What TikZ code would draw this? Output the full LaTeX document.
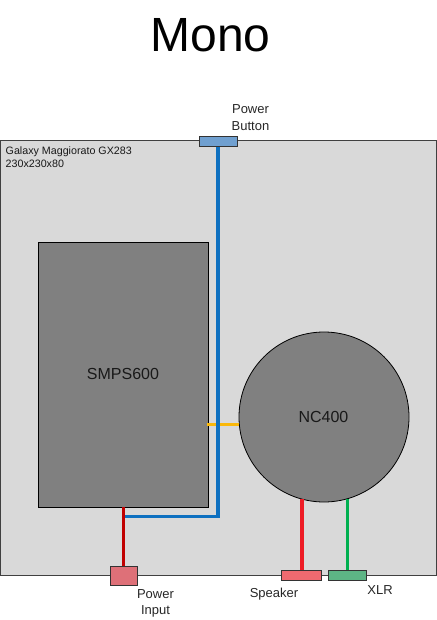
\documentclass[tikz,border=0pt]{standalone}
\usepackage{fontspec}
\setmainfont{Liberation Sans}
\begin{document}
\begin{tikzpicture}[x=1pt,y=-1pt,
  box/.style={draw=#1,rectangle,inner sep=0pt,line width=0.9pt},
  portbox/.style={draw=black!80,rectangle,inner sep=0pt,line width=1pt},
  wire/.style={line width=3.3pt,line cap=butt,line join=miter},
  lbl/.style={inner sep=0pt,align=center,font=\fontsize{13}{16.5}\selectfont,text=black!85},
  unit/.style={inner sep=0pt,font=\fontsize{16}{19}\selectfont,text=black!90}]
\useasboundingbox (0,0) rectangle (436,620);
\node[inner sep=0pt,font=\fontsize{48}{54}\selectfont] (title) at (210.5,35) {Mono};
\node[draw=black!75,line width=1pt,fill=black!15,inner sep=0pt,minimum width=436pt,minimum height=434pt] (case) at (218.5,358) {};
\node[box=black,fill=black!50,minimum width=170pt,minimum height=265pt] (smps) at (123.5,374.5) {};
\node[draw=black,line width=0.8pt,fill=black!50,circle,inner sep=0pt,minimum size=170pt] (nc) at (324,417) {};
\node[portbox,fill={rgb,255:red,112;green,160;blue,208},minimum width=38pt,minimum height=10pt] (button) at (218,141.5) {};
\node[portbox,fill={rgb,255:red,222;green,112;blue,120},minimum width=27pt,minimum height=19pt] (input) at (123.5,575.5) {};
\node[portbox,fill={rgb,255:red,238;green,106;blue,112},minimum width=40pt,minimum height=9.5pt] (speaker) at (301,575.7) {};
\node[portbox,fill={rgb,255:red,93;green,181;blue,133},minimum width=38pt,minimum height=9.5pt] (xlr) at (347.3,575.7) {};
\coordinate (junction) at (123,516.5);
\draw[wire,line width=3.6pt,color={rgb,255:red,250;green,184;blue,10}] ([xshift=-1.5pt]smps.east |- nc.185) -- (nc.185);
\draw[wire,color={rgb,255:red,14;green,112;blue,192}] (button.south) |- (junction);
\draw[wire,color={rgb,255:red,192;green,0;blue,0}] (smps.south) -- (input.north);
\draw[wire,color={rgb,255:red,238;green,28;blue,37}] (nc.255) -- (nc.255 |- speaker.north);
\draw[wire,color={rgb,255:red,0;green,176;blue,80}] (nc.286) -- (nc.286 |- xlr.north);
\node[lbl] (buttonlabel) at (250.5,117.5) {Power\\Button};
\node[lbl] (inputlabel) at (155.5,603.5) {Power\\Input};
\node[lbl] (speakerlabel) at (274,594.5) {Speaker};
\node[lbl] (xlrlabel) at (380,590) {XLR};
\node[inner sep=0pt,align=left,anchor=north west,font=\fontsize{10.7}{13}\selectfont,text=black!90] (caselabel) at (5.5,147) {Galaxy Maggiorato GX283\\230x230x80};
\node[unit] (smpslabel) at (123,374) {SMPS600};
\node[unit] (nclabel) at (323.5,417) {NC400};
\end{tikzpicture}
\end{document}
